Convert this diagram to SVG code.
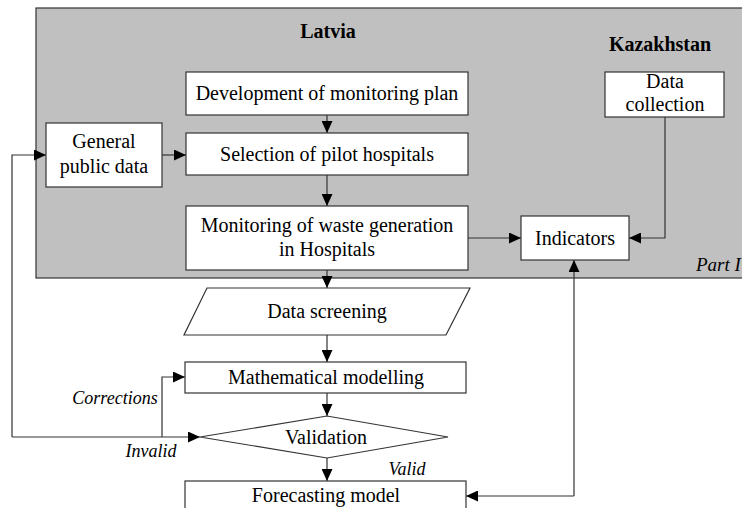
<svg xmlns="http://www.w3.org/2000/svg" width="742" height="508" viewBox="0 0 742 508">
<style>
.box{fill:#fff;stroke:#333;stroke-width:1.2}
text{font-family:'Liberation Serif','Times New Roman',Times,serif;font-size:20px;fill:#000;text-anchor:middle}
.b{font-weight:bold}
.i{font-style:italic;font-size:18px}
.c{fill:none;stroke:#333;stroke-width:1.2}
</style>
<defs>
<marker id="a" markerUnits="userSpaceOnUse" markerWidth="12" markerHeight="11" refX="12" refY="5.5" orient="auto">
<path d="M0,0 L12,5.5 L0,11 Z" fill="#000"/>
</marker>
</defs>
<g id="region">
<rect x="36" y="8" width="730" height="270" fill="#c0c0c0" stroke="#333" stroke-width="1.2"/>
<text class="b" x="328" y="38">Latvia</text>
<text class="b" x="660" y="51">Kazakhstan</text>
<text class="i" x="696" y="271" text-anchor="start" style="font-size:19px;text-anchor:start">Part I</text>
</g>
<g id="connectors">
<path class="c" d="M327,115 V133" marker-end="url(#a)"/>
<path class="c" d="M327,175 V206" marker-end="url(#a)"/>
<path class="c" d="M327,270 V288" marker-end="url(#a)"/>
<path class="c" d="M327,335 V362" marker-end="url(#a)"/>
<path class="c" d="M327,393 V416" marker-end="url(#a)"/>
<path class="c" d="M327,458 V481" marker-end="url(#a)"/>
<path class="c" d="M162,155 H186" marker-end="url(#a)"/>
<path class="c" d="M468,238 H521" marker-end="url(#a)"/>
<path class="c" d="M665,117 V238 H629" marker-end="url(#a)"/>
<path class="c" d="M12,437 V155 H46" marker-end="url(#a)"/>
<path class="c" d="M12,437 H200" marker-end="url(#a)"/>
<path class="c" d="M162,437 V377 H185" marker-end="url(#a)"/>
<path class="c" d="M574,496 V260" marker-end="url(#a)"/>
<path class="c" d="M574,496 H466" marker-end="url(#a)"/>
<text class="i" x="115" y="404">Corrections</text>
<text class="i" x="151" y="457">Invalid</text>
<text class="i" x="407" y="475">Valid</text>
</g>
<g id="dev"><rect class="box" x="186" y="72" width="282" height="43"/><text x="327" y="100">Development of monitoring plan</text></g>
<g id="sel"><rect class="box" x="186" y="133" width="282" height="42"/><text x="327" y="161">Selection of pilot hospitals</text></g>
<g id="mon"><rect class="box" x="186" y="206" width="282" height="64"/><text x="327" y="232">Monitoring of waste generation</text><text x="327" y="256">in Hospitals</text></g>
<g id="gpd"><rect class="box" x="46" y="123" width="116" height="64"/><text x="104" y="148">General</text><text x="104" y="173">public data</text></g>
<g id="dc"><rect class="box" x="605" y="72" width="119" height="45"/><text x="665" y="88">Data</text><text x="665" y="111">collection</text></g>
<g id="ind"><rect class="box" x="521" y="216" width="108" height="44"/><text x="575" y="245">Indicators</text></g>
<g id="scr"><path class="box" d="M207,288 H470 L446,335 H184 Z"/><text x="327" y="318">Data screening</text></g>
<g id="math"><rect class="box" x="185" y="362" width="281" height="31"/><text x="326" y="384">Mathematical modelling</text></g>
<g id="val"><path class="box" d="M200,437 L327,416 L448,437 L327,458 Z"/><text x="326" y="444">Validation</text></g>
<g id="fc"><rect class="box" x="185" y="481" width="281" height="40"/><text x="326" y="502">Forecasting model</text></g>
</svg>
